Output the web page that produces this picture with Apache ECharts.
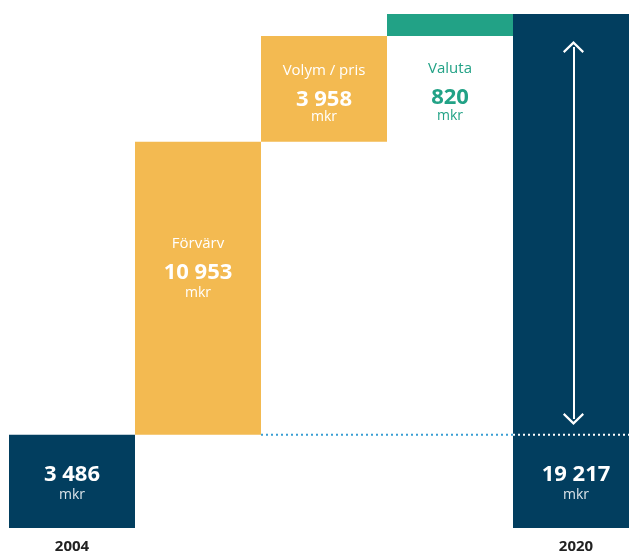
<!DOCTYPE html>
<html>
<head>
<meta charset="utf-8">
<script src="https://cdn.jsdelivr.net/npm/echarts@6/dist/echarts.min.js"></script>
<style>
  html, body { margin: 0; padding: 0; background: #fff; overflow: hidden; }
  /* the last column runs past the right edge of the page */
  #chart { width: 639px; height: 554px; }
</style>
</head>
<body>
<div id="chart"></div>
<script>
// Bridge from 2004 turnover to 2020 turnover (mkr)
const categories = ['2004', 'Förvärv', 'Volym / pris', 'Valuta', '2020'];
const axisLabels = ['2004', '', '', '', '2020'];
const stepNames = ['', 'Förvärv', 'Volym / pris', 'Valuta', ''];
const values = [3486, 10953, 3958, 820, 19217];
const isTotal = [true, false, false, false, true];
// Reference level (start value) and the span of the growth arrow
const baseLevel = 3486;
const arrowRange = [4075, 17983];

const NAVY = '#023e5f';
const YELLOW = '#f3ba51';
const GREEN = '#22a286';
const FONT = '"Open Sans", "Noto Sans", sans-serif';

// invisible offsets for the floating steps
const offsets = [];
let running = 0;
values.forEach((v, i) => {
  if (isTotal[i]) { offsets.push(0); running = v; }
  else { offsets.push(running); running += v; }
});

const fmt = n => String(n).replace(/\B(?=(\d{3})+(?!\d))/g, ' ');

const colors = [NAVY, YELLOW, YELLOW, GREEN, NAVY];

function labelFor(i) {
  const v = values[i];
  if (isTotal[i]) {
    return {
      show: true, position: 'insideBottom', distance: 26,
      formatter: '{b|' + fmt(v) + '}\n{c|mkr}',
      rich: {
        b: { fontFamily: FONT, fontSize: 22, fontWeight: 'bold', color: '#fff', lineHeight: 26, align: 'center' },
        c: { fontFamily: FONT, fontSize: 14, color: '#dce4ea', lineHeight: 14, align: 'center' }
      }
    };
  }
  const txt = i === 3 ? GREEN : '#fff';
  const dist = [0, 86, 19, 39, 0][i];
  const mkrLine = [0, 14, 9, 10, 0][i];
  return {
    show: true, position: 'insideTop', distance: dist,
    formatter: '{a|' + stepNames[i] + '}\n{b|' + fmt(v) + '}\n{c|mkr}',
    rich: {
      a: { fontFamily: FONT, fontSize: 15, color: txt, lineHeight: 32, align: 'center' },
      b: { fontFamily: FONT, fontSize: 22, fontWeight: 'bold', color: txt, lineHeight: 26, align: 'center' },
      c: { fontFamily: FONT, fontSize: 14, color: txt, lineHeight: mkrLine, align: 'center' }
    }
  };
}

const chart = echarts.init(document.getElementById('chart'), null, { renderer: 'canvas' });

chart.setOption({
  animation: false,
  grid: { left: 9, right: 0, top: 14, bottom: 26, containLabel: false },
  xAxis: [
    {
      type: 'category', data: categories,
      axisLine: { show: false }, axisTick: { show: false }, splitLine: { show: false },
      axisLabel: {
        margin: 11, interval: 0,
        formatter: (val, idx) => axisLabels[idx],
        fontFamily: FONT, fontSize: 15, fontWeight: 'bold', color: '#222'
      }
    },
    { type: 'value', min: 0, max: categories.length, show: false }
  ],
  yAxis: { type: 'value', min: 0, max: values[4], show: false },
  series: [
    {
      type: 'bar', stack: 'w', barCategoryGap: '0%',
      itemStyle: { color: 'transparent' },
      data: offsets, silent: true
    },
    {
      type: 'bar', stack: 'w', barCategoryGap: '0%',
      data: values.map((v, i) => ({ value: v, itemStyle: { color: colors[i] }, label: labelFor(i) }))
    },
    {
      // dotted reference at the starting level, from the volume step to the end
      type: 'line', xAxisIndex: 1, symbol: 'none', z: 5,
      data: [[2, baseLevel], [4, baseLevel]],
      lineStyle: { color: '#3a9fd3', width: 2, type: [2, 3] }
    },
    {
      type: 'line', xAxisIndex: 1, symbol: 'none', z: 5,
      data: [[4, baseLevel], [5, baseLevel]],
      lineStyle: { color: '#ffffff', width: 2, type: [2, 3] },
      markLine: {
        silent: true,
        symbol: ['path://M0,9.5 L10,0 L20,9.5 L18.6,11 L10,3 L1.4,11 Z', 'path://M0,9.5 L10,0 L20,9.5 L18.6,11 L10,3 L1.4,11 Z'],
        symbolSize: [21, 12],
        label: { show: false },
        lineStyle: { color: '#ffffff', width: 2, type: 'solid' },
        data: [[{ coord: [4.48, arrowRange[0]] }, { coord: [4.48, arrowRange[1]] }]]
      }
    }
  ]
});
</script>
</body>
</html>
